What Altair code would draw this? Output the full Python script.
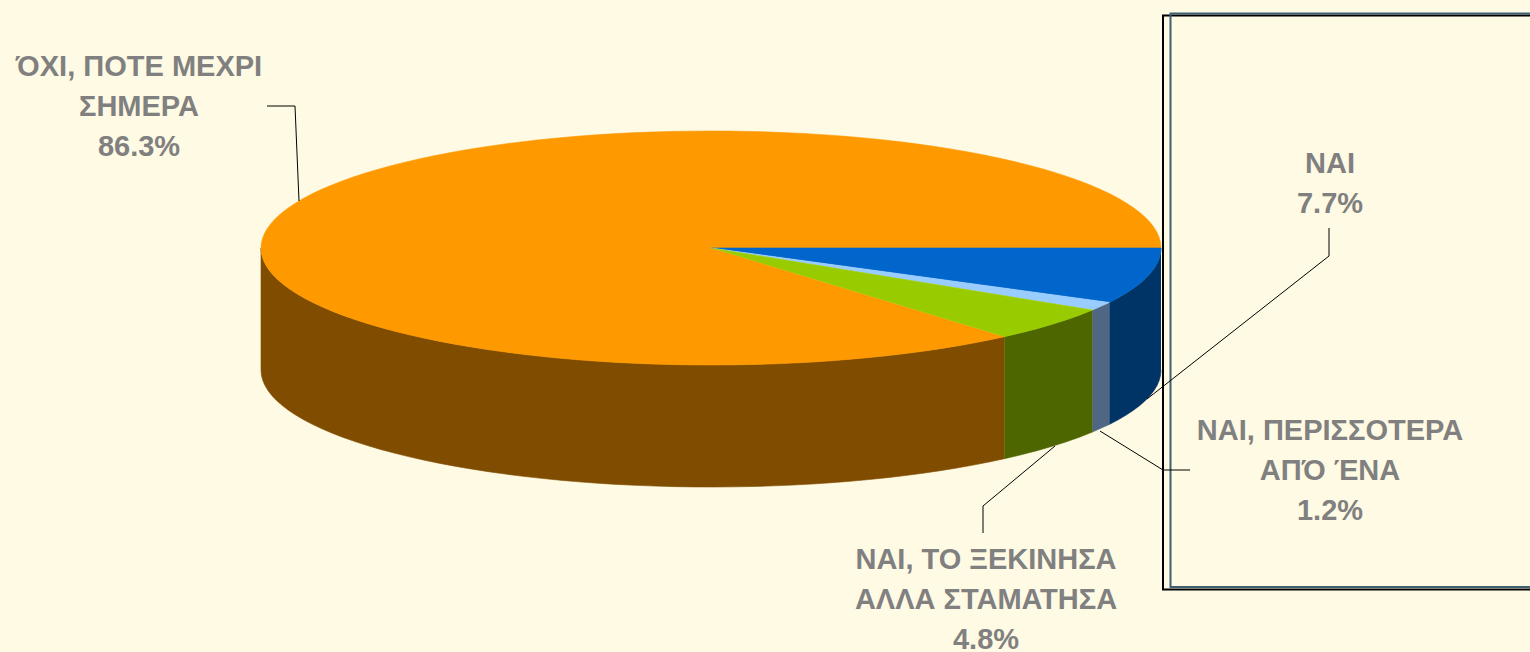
import numpy as np
import pandas as pd
import altair as alt

# Survey shares, clockwise from the east point of the pie
categories = ["ΝΑΙ", "ΝΑΙ, ΠΕΡΙΣΣΟΤΕΡΑ ΑΠΌ ΈΝΑ", "ΝΑΙ, ΤΟ ΞΕΚΙΝΗΣΑ ΑΛΛΑ ΣΤΑΜΑΤΗΣΑ", "ΌΧΙ, ΠΟΤΕ ΜΕΧΡΙ ΣΗΜΕΡΑ"]
values = [7.7, 1.2, 4.8, 86.3]
top_colors = ["#0066CC", "#99CCFF", "#99CC00", "#FF9900"]
side_colors = ["#003366", "#4F6785", "#4D6600", "#804D00"]

# Wrapped label lines for each slice
label_lines = [["ΝΑΙ"], ["ΝΑΙ, ΠΕΡΙΣΣΟΤΕΡΑ", "ΑΠΌ ΈΝΑ"], ["ΝΑΙ, ΤΟ ΞΕΚΙΝΗΣΑ", "ΑΛΛΑ ΣΤΑΜΑΤΗΣΑ"], ["ΌΧΙ, ΠΟΤΕ ΜΕΧΡΙ", "ΣΗΜΕΡΑ"]]
label_anchor_x = [1330, 1330, 986, 139]
label_first_baseline = [173, 440, 569, 75.5]
line_height = 40

# Leader lines: one polyline per slice
leaders = [
    [(1329, 228), (1329, 256), (1147, 399)],
    [(1100, 431), (1163, 470), (1190, 470)],
    [(983, 533), (983, 506), (1055, 446)],
    [(267, 106), (295, 106), (299, 201)],
]

# Pie projection
CX, CY, RX, RY, DEPTH = 711, 248, 450, 117, 122
W, H = 1530, 652
BACKGROUND = "#FFFAE4"


def rim(a0, a1):
    """Points on the elliptical rim between two angles in degrees."""
    n = max(2, int(abs(a1 - a0) / 2.5) + 1)
    t = np.radians(np.linspace(a0, a1, n))
    return CX + RX * np.cos(t), CY + RY * np.sin(t)


rows = []


def add_polygon(name, color, xs, ys):
    for i, (x, y) in enumerate(zip(xs, ys)):
        rows.append({"poly": name, "shade": color, "seq": i, "x": float(x), "y": float(y)})


edges = np.concatenate([[0], np.cumsum(values)]) * 3.6

# Outer walls are drawn first, only for the front half of the pie
for k, color in enumerate(side_colors):
    a0, a1 = edges[k], min(edges[k + 1], 180)
    xs, ys = rim(a0, a1)
    add_polygon(f"wall{k}", color, np.r_[xs, xs[::-1]], np.r_[ys, ys[::-1] + DEPTH])

# Top faces follow; the large slice first so the thin ones sit on it
for k in [3, 0, 1, 2]:
    xs, ys = rim(edges[k], edges[k + 1])
    add_polygon(f"top{k}", top_colors[k], np.r_[CX, xs], np.r_[CY, ys])

poly_df = pd.DataFrame(rows)

x_scale = alt.Scale(domain=[0, W], range=[0, W])
y_scale = alt.Scale(domain=[0, H], range=[0, H])
X = alt.X("x:Q", scale=x_scale, axis=None)
Y = alt.Y("y:Q", scale=y_scale, axis=None)

pie = alt.Chart(poly_df).mark_line(strokeWidth=0.6, interpolate="linear").encode(
    x=X, y=Y,
    order="seq:Q",
    detail="poly:N",
    fill=alt.Fill("shade:N", scale=None),
    stroke=alt.Stroke("shade:N", scale=None),
)

leader_df = pd.DataFrame([
    {"leader": k, "seq": i, "x": p[0], "y": p[1]}
    for k, pts in enumerate(leaders) for i, p in enumerate(pts)
])
leader_marks = alt.Chart(leader_df).mark_line(color="#000000", strokeWidth=1).encode(
    x=X, y=Y, order="seq:Q", detail="leader:N"
)

# Data-label text: wrapped category name plus its percentage
text_rows = []
for k, lines in enumerate(label_lines):
    for i, line in enumerate(lines + [f"{values[k]}%"]):
        text_rows.append({"x": label_anchor_x[k], "y": label_first_baseline[k] + i * line_height, "t": line})
labels = alt.Chart(pd.DataFrame(text_rows)).mark_text(
    font="Liberation Sans", fontWeight="bold", fontSize=29, color="#808080",
    align="center", baseline="alphabetic",
).encode(x=X, y=Y, text="t:N")

# Double frame on the right
frame_df = pd.DataFrame([
    {"x": 1163, "x2": W + 10, "y": 15.5, "y2": 589.5, "c": "#000000"},
    {"x": 1170.5, "x2": W + 10, "y": 13.5, "y2": 587, "c": "#3F5F73"},
])
frames = alt.Chart(frame_df).mark_rect(fillOpacity=0, strokeWidth=2, clip=True).encode(
    x=X, x2="x2:Q", y=Y, y2="y2:Q", stroke=alt.Stroke("c:N", scale=None)
)

chart = alt.layer(frames, pie, leader_marks, labels).properties(
    width=W, height=H, background=BACKGROUND, padding=0, autosize=alt.AutoSizeParams(type="none")
).configure_view(stroke=None)

chart.save("out.html", embed_options={"renderer": "svg", "actions": False})
